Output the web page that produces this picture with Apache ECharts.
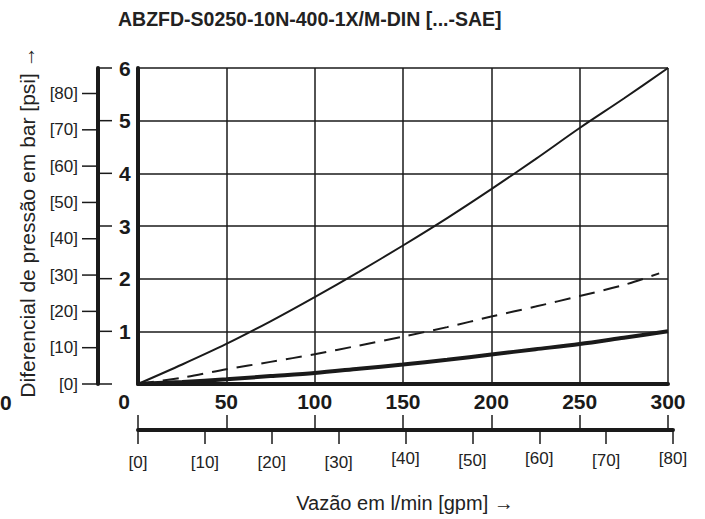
<!DOCTYPE html>
<html>
<head>
<meta charset="utf-8">
<script src="https://cdn.jsdelivr.net/npm/echarts@6/dist/echarts.min.js"></script>
<style>
  html, body { margin: 0; padding: 0; background: #fff; }
  #chart { width: 705px; height: 519px; }
</style>
</head>
<body>
<div id="chart"></div>
<script>
// flow in l/min, pressure difference in bar
const flowLpm = [0, 25, 50, 75, 100, 125, 150, 175, 200, 225, 250, 275, 300]
const thinCurveBar = [0, 0.37, 0.76, 1.19, 1.65, 2.13, 2.63, 3.15, 3.70, 4.27, 4.86, 5.42, 6.0]
const thickCurveBar = [0, 0.04, 0.09, 0.15, 0.21, 0.29, 0.37, 0.46, 0.56, 0.66, 0.76, 0.88, 1.0]
const dashedFlowLpm = [0, 25, 50, 75, 100, 125, 150, 175, 200, 225, 250, 275, 295]
const dashedCurveBar = [0, 0.12, 0.28, 0.42, 0.565, 0.73, 0.90, 1.08, 1.28, 1.47, 1.67, 1.88, 2.1]

// tick values
const barTicks = [0, 1, 2, 3, 4, 5, 6]
const psiTicks = [0, 10, 20, 30, 40, 50, 60, 70, 80]
const gpmMax = 80
const raisedGpm = [40, 60, 80]
const halfRaisedGpm = [50, 70]

const titleText = 'ABZFD-S0250-10N-400-1X/M-DIN [...-SAE]'
const xTitle = 'Vazão em l/min [gpm] →'
const yTitle = 'Diferencial de pressão em bar [psi] →'

const PSI_PER_BAR = 14.5038
const LPM_PER_GPM = 3.78541
const INK = '#1a1a1a'
const TXT = '#222'

// plot box in px
const plotLeft = 138
const plotTop = 68
const plotWidth = 530
const plotHeight = 316
const scaleY = 430
const scaleX = 98
const gpmWidth = plotWidth * gpmMax / (300 / LPM_PER_GPM)

const numFont = { fontFamily: 'Liberation Sans', fontWeight: 'bold', fontSize: 21, color: INK }
const bracketFont = { fontFamily: 'Liberation Sans', fontSize: 17, color: TXT }
const tickLine = { color: INK, width: 1.5 }

const pairs = (xs, ys) => xs.map((x, i) => [x, ys[i]])
const unitX = i => ({ gridIndex: i, type: 'value', min: 0, max: 1, show: false })

// short horizontal tick across a narrow strip grid, placed by the strip's y scale
const tickSeries = (idx, values) => ({
  type: 'custom', xAxisIndex: idx, yAxisIndex: idx, silent: true,
  data: values.map(v => [0, v]),
  encode: { x: 0, y: 1 },
  renderItem: (params, api) => {
    const a = api.coord([0, api.value(1)])
    const b = api.coord([1, api.value(1)])
    return {
      type: 'line',
      shape: { x1: a[0], y1: a[1], x2: b[0], y2: b[1] },
      style: { stroke: INK, lineWidth: 1.5 }
    }
  }
})

const chart = echarts.init(document.getElementById('chart'), null, { renderer: 'svg' })

const option = {
  animation: false,
  backgroundColor: '#fff',
  grid: [
    { left: plotLeft, top: plotTop, width: plotWidth, height: plotHeight, outerBoundsMode: 'none' },
    // lower flow scale: l/min ticks up, gpm ticks down
    { left: plotLeft, top: scaleY - 1, width: plotWidth, height: 1, outerBoundsMode: 'none' },
    { left: plotLeft, top: scaleY - 1, width: gpmWidth, height: 1, outerBoundsMode: 'none' },
    // left pressure scale: bar ticks right of the line, psi ticks left of it
    { left: scaleX, top: plotTop, width: 14, height: plotHeight, outerBoundsMode: 'none' },
    { left: scaleX - 16, top: plotTop, width: 16, height: plotHeight, outerBoundsMode: 'none' }
  ],
  xAxis: [
    {
      gridIndex: 0, type: 'value', min: 0, max: 300, interval: 50,
      axisLine: { show: true, lineStyle: { color: INK, width: 4 } },
      axisTick: { show: false },
      axisLabel: {
        margin: 7,
        formatter: v => (v === 0 ? '{z|0}' : '{n|' + v + '}'),
        rich: { z: { ...numFont, padding: [0, 28, 0, 0] }, n: { ...numFont } }
      },
      splitLine: { show: true, lineStyle: { color: INK, width: 1.5 } }
    },
    {
      gridIndex: 1, type: 'value', min: 0, max: 300, interval: 50,
      axisLine: { show: false },
      axisTick: { show: true, inside: true, length: 15, lineStyle: tickLine },
      axisLabel: { show: false },
      splitLine: { show: false }
    },
    {
      gridIndex: 2, type: 'value', min: 0, max: gpmMax, interval: 10,
      axisLine: { show: true, lineStyle: { color: INK, width: 4 } },
      axisTick: { show: true, length: 14, lineStyle: tickLine },
      axisLabel: {
        margin: 20,
        formatter: v => {
          const k = raisedGpm.includes(v) ? 'c' : halfRaisedGpm.includes(v) ? 'b' : 'a'
          return '{' + k + '|[' + v + ']}'
        },
        rich: {
          a: { ...bracketFont, padding: [4, 0, 0, 0] },
          b: { ...bracketFont, padding: [2, 0, 0, 0] },
          c: { ...bracketFont }
        }
      },
      splitLine: { show: false }
    },
    unitX(3),
    unitX(4)
  ],
  yAxis: [
    {
      gridIndex: 0, type: 'value', min: 0, max: 6, interval: 1,
      axisLine: { show: true, onZero: false, lineStyle: { color: INK, width: 4 } },
      axisTick: { show: false },
      axisLabel: { show: false },
      splitLine: { show: true, lineStyle: { color: INK, width: 1.5 } }
    },
    { gridIndex: 1, type: 'value', show: false },
    { gridIndex: 2, type: 'value', show: false },
    {
      // bar scale
      gridIndex: 3, type: 'value', min: 0, max: 6, interval: 1,
      axisLine: { show: true, onZero: false, lineStyle: { color: INK, width: 4 } },
      axisTick: { show: false },
      axisLabel: { inside: true, margin: 21, showMinLabel: false, ...numFont },
      splitLine: { show: false }
    },
    {
      // psi scale, same height as the bar scale
      gridIndex: 4, type: 'value', min: 0, max: 6 * PSI_PER_BAR,
      axisLine: { show: false, onZero: false },
      axisTick: { show: false },
      axisLabel: { margin: 4, customValues: psiTicks, formatter: '[{value}]', ...bracketFont },
      splitLine: { show: false }
    }
  ],
  series: [
    {
      name: 'thin', type: 'line', xAxisIndex: 0, yAxisIndex: 0,
      data: pairs(flowLpm, thinCurveBar), smooth: 0.3, showSymbol: false,
      lineStyle: { color: INK, width: 2 }
    },
    {
      name: 'dashed', type: 'line', xAxisIndex: 0, yAxisIndex: 0,
      data: pairs(dashedFlowLpm, dashedCurveBar), smooth: 0.3, showSymbol: false,
      lineStyle: { color: INK, width: 2, type: [16, 9] }
    },
    {
      name: 'thick', type: 'line', xAxisIndex: 0, yAxisIndex: 0,
      data: pairs(flowLpm, thickCurveBar), smooth: 0.3, showSymbol: false,
      lineStyle: { color: INK, width: 4 }
    },
    tickSeries(3, barTicks),
    tickSeries(4, psiTicks)
  ],
  graphic: [
    {
      type: 'text', left: 118, top: 9,
      style: { text: titleText, font: 'bold 19.5px "Liberation Sans"', fill: TXT }
    },
    {
      type: 'text', x: 405, y: 503,
      style: { text: xTitle, font: '20px "Liberation Sans"', fill: TXT, textAlign: 'center', textVerticalAlign: 'middle' }
    },
    {
      type: 'text', x: 27, y: 222, rotation: Math.PI / 2,
      style: { text: yTitle, font: '21px "Liberation Sans"', fill: TXT, textAlign: 'center', textVerticalAlign: 'middle' }
    },
    {
      type: 'text', x: 0, y: 402,
      style: { text: '0', font: 'bold 21px "Liberation Sans"', fill: INK, textAlign: 'left', textVerticalAlign: 'middle' }
    }
  ]
}

chart.setOption(option)
</script>
</body>
</html>
